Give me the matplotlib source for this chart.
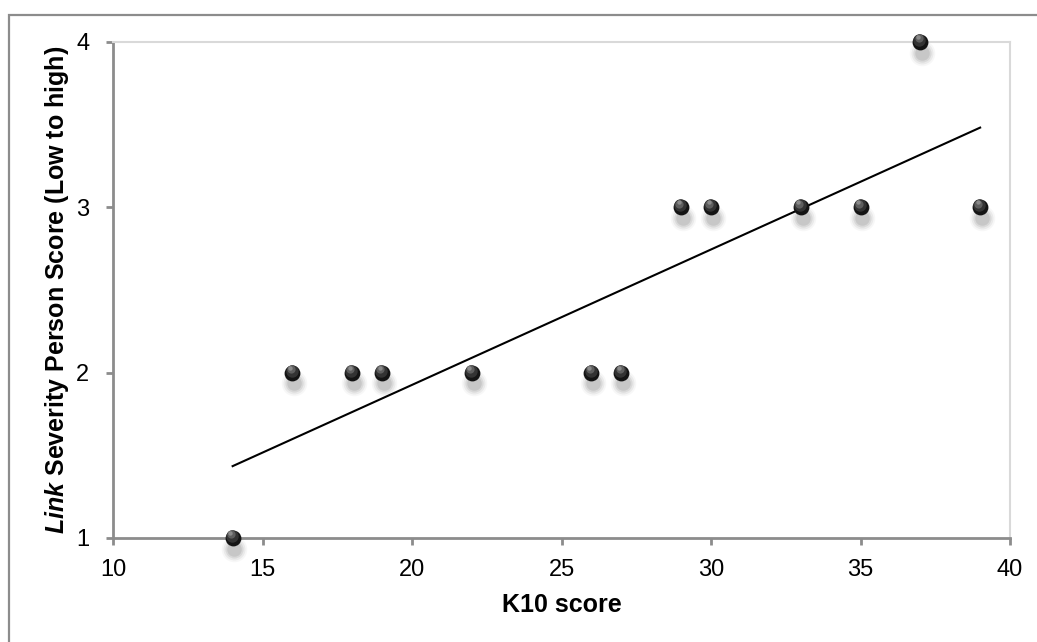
import numpy as np
import matplotlib
matplotlib.use("Agg")
import matplotlib.pyplot as plt
from matplotlib.patches import Rectangle

plt.rcParams['font.family'] = ['Liberation Sans', 'DejaVu Sans']
plt.rcParams['mathtext.fontset'] = 'custom'
plt.rcParams['mathtext.bfit'] = 'Liberation Sans:italic:bold'
plt.rcParams['mathtext.it'] = 'Liberation Sans:italic'
plt.rcParams['mathtext.rm'] = 'Liberation Sans'

k10 = [14, 16, 18, 19, 22, 26, 27, 29, 30, 33, 35, 37, 39]
severity = [1, 2, 2, 2, 2, 2, 2, 3, 3, 3, 3, 4, 3]
x_ticks = [10, 15, 20, 25, 30, 35, 40]
y_ticks = [1, 2, 3, 4]

fig = plt.figure(figsize=(10.37, 6.42), dpi=100)
ax = fig.add_axes([0.109, 0.162, 0.865, 0.7726])

# figure frame
fig.patches.append(Rectangle((9/1037, -0.1), 1.2, 1 - 15/642 + 0.1, transform=fig.transFigure,
                             fill=False, edgecolor='#8c8c8c', linewidth=1.6, zorder=0))

x = np.array(k10, dtype=float)
y = np.array(severity, dtype=float)
slope, intercept = np.polyfit(x, y, 1)
xl = np.array([x.min(), x.max()])
ax.plot(xl, slope * xl + intercept, color='black', lw=1.5, zorder=3, clip_on=False)

# shadows
for s, a in [(340, 0.03), (250, 0.05), (170, 0.07), (110, 0.08)]:
    ax.scatter(x + 0.06, y - 0.065, s=s, color='black', alpha=a, linewidths=0, zorder=4, clip_on=False)
# spheres
ax.scatter(x, y, s=130, color='#141414', linewidths=0, zorder=5, clip_on=False)
ax.scatter(x - 0.03, y + 0.012, s=80, color='#333333', linewidths=0, zorder=6, clip_on=False)
ax.scatter(x - 0.06, y + 0.022, s=35, color='#5e5e5e', linewidths=0, zorder=7, clip_on=False)
ax.scatter(x - 0.08, y + 0.03, s=10, color='#8a8a8a', linewidths=0, zorder=8, clip_on=False)

ax.set_xlim(10, 40)
ax.set_ylim(1, 4)
ax.set_xticks(x_ticks)
ax.set_yticks(y_ticks)
ax.tick_params(axis='both', direction='out', length=5, width=2, color='#8c8c8c',
               labelsize=17)
ax.tick_params(axis='x', pad=10)
ax.tick_params(axis='y', pad=12)
for side in ['left', 'bottom']:
    ax.spines[side].set_color('#8c8c8c')
    ax.spines[side].set_linewidth(2)
for side in ['top', 'right']:
    ax.spines[side].set_color('#d9d9d9')
    ax.spines[side].set_linewidth(1.5)

ax.set_xlabel('K10 score', fontsize=18, fontweight='bold', labelpad=9)
ax.set_ylabel(r'$\mathbfit{Link}$ Severity Person Score (Low to high)', fontsize=18,
              fontweight='bold', labelpad=4)

fig.savefig('out.png', dpi=100)
